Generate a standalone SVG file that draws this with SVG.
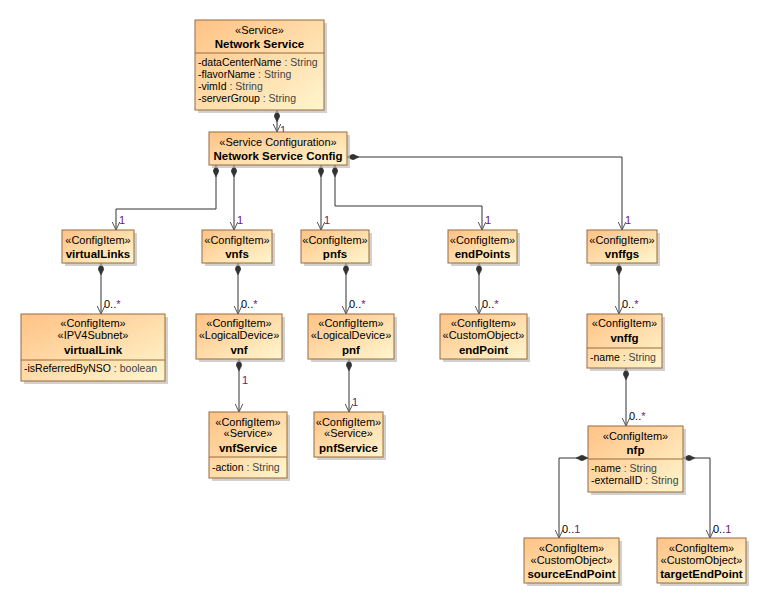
<svg xmlns="http://www.w3.org/2000/svg" width="764" height="604" viewBox="0 0 764 604">
<style>
text{font-family:"Liberation Sans",Arial,sans-serif;font-size:11px;fill:#000}
.st{text-anchor:middle}
.nm{text-anchor:middle;font-weight:bold;font-size:11.5px}
.at{text-anchor:start;font-size:10.5px}
.ty{fill:#444}
.box{fill:url(#g);stroke:#9a6a3a;stroke-width:1}
.sh{fill:#bdbdbd;opacity:0.7}
.dv{stroke:#9a6a3a;stroke-width:1}
.cn{fill:none;stroke:#333;stroke-width:1;marker-start:url(#dia);marker-end:url(#arr)}
.m{font-size:11px;fill:#000}
.p{fill:#6a1a7a}
</style>
<defs>
<linearGradient id="g" x1="0" y1="0" x2="1" y2="1">
<stop offset="0" stop-color="#FFC285"/>
<stop offset="1" stop-color="#FFF6CE"/>
</linearGradient>
<marker id="dia" viewBox="0 0 12 6" refX="0" refY="3" markerWidth="12" markerHeight="6" orient="auto" markerUnits="userSpaceOnUse">
<path d="M0,3 L6,0 L12,3 L6,6 Z" fill="#333" stroke="#333" stroke-width="0.5"/>
</marker>
<marker id="arr" viewBox="0 0 9 8" refX="8.5" refY="4" markerWidth="9" markerHeight="8" orient="auto" markerUnits="userSpaceOnUse">
<path d="M0,0 L8.5,4 L0,8" fill="none" stroke="#555" stroke-width="1"/>
</marker>
</defs>
<rect width="764" height="604" fill="#fff"/>

<g id="connectors">
<path class="cn" d="M277,110 L277,132"/>
<path class="cn" d="M216,165 L216,209 L116,209 L116,230"/>
<path class="cn" d="M234,165 L234,230"/>
<path class="cn" d="M321,165 L321,230"/>
<path class="cn" d="M335,165 L335,206 L482,206 L482,230"/>
<path class="cn" d="M347,157 L622,157 L622,230"/>
<path class="cn" d="M101,263 L101,314"/>
<path class="cn" d="M238,263 L238,314"/>
<path class="cn" d="M346,263 L346,314"/>
<path class="cn" d="M479,263 L479,314"/>
<path class="cn" d="M619,263 L619,314"/>
<path class="cn" d="M239,359 L239,412"/>
<path class="cn" d="M349,359 L349,412"/>
<path class="cn" d="M626,368 L626,426"/>
<path class="cn" d="M588,458 L559,458 L559,538"/>
<path class="cn" d="M683,458 L710,458 L710,538"/>
<text class="m p" x="280" y="134">1</text>
<text class="m p" x="119" y="224">1</text>
<text class="m p" x="237" y="224">1</text>
<text class="m p" x="324" y="224">1</text>
<text class="m p" x="485" y="224">1</text>
<text class="m p" x="625" y="224">1</text>
<text class="m" x="104" y="308">0..<tspan class="p">*</tspan></text>
<text class="m" x="241" y="308">0..<tspan class="p">*</tspan></text>
<text class="m" x="349" y="308">0..<tspan class="p">*</tspan></text>
<text class="m" x="482" y="308">0..<tspan class="p">*</tspan></text>
<text class="m" x="622" y="308">0..<tspan class="p">*</tspan></text>
<text class="m p" x="242" y="384">1</text>
<text class="m p" x="352" y="406">1</text>
<text class="m" x="629" y="420">0..<tspan class="p">*</tspan></text>
<text class="m" x="562" y="533">0..<tspan class="p">1</tspan></text>
<text class="m" x="713" y="533">0..<tspan class="p">1</tspan></text>
</g>

<g id="networkService">
<rect class="sh" x="198" y="23" width="129" height="90"/>
<rect class="box" x="195" y="20" width="129" height="90"/>
<line class="dv" x1="195" y1="53" x2="324" y2="53"/>
<text class="st" x="259.5" y="34">«Service»</text>
<text class="nm" x="259.5" y="48">Network Service</text>
<text class="at" x="198" y="66">-dataCenterName<tspan class="ty"> : String</tspan></text>
<text class="at" x="198" y="78">-flavorName<tspan class="ty"> : String</tspan></text>
<text class="at" x="198" y="90">-vimId<tspan class="ty"> : String</tspan></text>
<text class="at" x="198" y="102">-serverGroup<tspan class="ty"> : String</tspan></text>
</g>

<g id="networkServiceConfig">
<rect class="sh" x="212" y="135" width="138" height="33"/>
<rect class="box" x="209" y="132" width="138" height="33"/>
<text class="st" x="278" y="146">«Service Configuration»</text>
<text class="nm" x="278" y="160">Network Service Config</text>
</g>

<g id="virtualLinks">
<rect class="sh" x="65" y="233" width="72" height="33"/>
<rect class="box" x="62" y="230" width="72" height="33"/>
<text class="st" x="98" y="244">«ConfigItem»</text>
<text class="nm" x="98" y="258">virtualLinks</text>
</g>

<g id="vnfs">
<rect class="sh" x="205" y="233" width="70" height="33"/>
<rect class="box" x="202" y="230" width="70" height="33"/>
<text class="st" x="237" y="244">«ConfigItem»</text>
<text class="nm" x="237" y="258">vnfs</text>
</g>

<g id="pnfs">
<rect class="sh" x="304" y="233" width="68" height="33"/>
<rect class="box" x="301" y="230" width="68" height="33"/>
<text class="st" x="335" y="244">«ConfigItem»</text>
<text class="nm" x="335" y="258">pnfs</text>
</g>

<g id="endPoints">
<rect class="sh" x="451" y="233" width="69" height="33"/>
<rect class="box" x="448" y="230" width="69" height="33"/>
<text class="st" x="482.5" y="244">«ConfigItem»</text>
<text class="nm" x="482.5" y="258">endPoints</text>
</g>

<g id="vnffgs">
<rect class="sh" x="590" y="233" width="70" height="33"/>
<rect class="box" x="587" y="230" width="70" height="33"/>
<text class="st" x="622" y="244">«ConfigItem»</text>
<text class="nm" x="622" y="258">vnffgs</text>
</g>

<g id="virtualLink">
<rect class="sh" x="24" y="317" width="144" height="67"/>
<rect class="box" x="21" y="314" width="144" height="67"/>
<line class="dv" x1="21" y1="360" x2="165" y2="360"/>
<text class="st" x="93" y="327">«ConfigItem»</text>
<text class="st" x="93" y="339">«IPV4Subnet»</text>
<text class="nm" x="93" y="354">virtualLink</text>
<text class="at" x="24" y="372">-isReferredByNSO<tspan class="ty"> : boolean</tspan></text>
</g>

<g id="vnf">
<rect class="sh" x="199" y="317" width="86" height="45"/>
<rect class="box" x="196" y="314" width="86" height="45"/>
<text class="st" x="239" y="327">«ConfigItem»</text>
<text class="st" x="239" y="339">«LogicalDevice»</text>
<text class="nm" x="239" y="354">vnf</text>
</g>

<g id="pnf">
<rect class="sh" x="311" y="317" width="86" height="45"/>
<rect class="box" x="308" y="314" width="86" height="45"/>
<text class="st" x="351" y="327">«ConfigItem»</text>
<text class="st" x="351" y="339">«LogicalDevice»</text>
<text class="nm" x="351" y="354">pnf</text>
</g>

<g id="endPoint">
<rect class="sh" x="443" y="317" width="87" height="45"/>
<rect class="box" x="440" y="314" width="87" height="45"/>
<text class="st" x="483.5" y="327">«ConfigItem»</text>
<text class="st" x="483.5" y="339">«CustomObject»</text>
<text class="nm" x="483.5" y="354">endPoint</text>
</g>

<g id="vnffg">
<rect class="sh" x="590" y="317" width="75" height="54"/>
<rect class="box" x="587" y="314" width="75" height="54"/>
<line class="dv" x1="587" y1="348" x2="662" y2="348"/>
<text class="st" x="624.5" y="327">«ConfigItem»</text>
<text class="nm" x="624.5" y="342">vnffg</text>
<text class="at" x="590" y="361">-name<tspan class="ty"> : String</tspan></text>
</g>

<g id="vnfService">
<rect class="sh" x="212" y="415" width="78" height="66"/>
<rect class="box" x="209" y="412" width="78" height="66"/>
<line class="dv" x1="209" y1="457" x2="287" y2="457"/>
<text class="st" x="248" y="426">«ConfigItem»</text>
<text class="st" x="248" y="437">«Service»</text>
<text class="nm" x="248" y="452">vnfService</text>
<text class="at" x="212" y="471">-action<tspan class="ty"> : String</tspan></text>
</g>

<g id="pnfService">
<rect class="sh" x="317" y="415" width="69" height="45"/>
<rect class="box" x="314" y="412" width="69" height="45"/>
<text class="st" x="348.5" y="426">«ConfigItem»</text>
<text class="st" x="348.5" y="437">«Service»</text>
<text class="nm" x="348.5" y="452">pnfService</text>
</g>

<g id="nfp">
<rect class="sh" x="591" y="429" width="95" height="66"/>
<rect class="box" x="588" y="426" width="95" height="66"/>
<line class="dv" x1="588" y1="459" x2="683" y2="459"/>
<text class="st" x="635.5" y="440">«ConfigItem»</text>
<text class="nm" x="635.5" y="454">nfp</text>
<text class="at" x="591" y="472">-name<tspan class="ty"> : String</tspan></text>
<text class="at" x="591" y="484">-externalID<tspan class="ty"> : String</tspan></text>
</g>

<g id="sourceEndPoint">
<rect class="sh" x="527" y="541" width="95" height="45"/>
<rect class="box" x="524" y="538" width="95" height="45"/>
<text class="st" x="571.5" y="552">«ConfigItem»</text>
<text class="st" x="571.5" y="564">«CustomObject»</text>
<text class="nm" x="571.5" y="578">sourceEndPoint</text>
</g>

<g id="targetEndPoint">
<rect class="sh" x="660" y="541" width="89" height="45"/>
<rect class="box" x="657" y="538" width="89" height="45"/>
<text class="st" x="701.5" y="552">«ConfigItem»</text>
<text class="st" x="701.5" y="564">«CustomObject»</text>
<text class="nm" x="701.5" y="578">targetEndPoint</text>
</g>
</svg>
